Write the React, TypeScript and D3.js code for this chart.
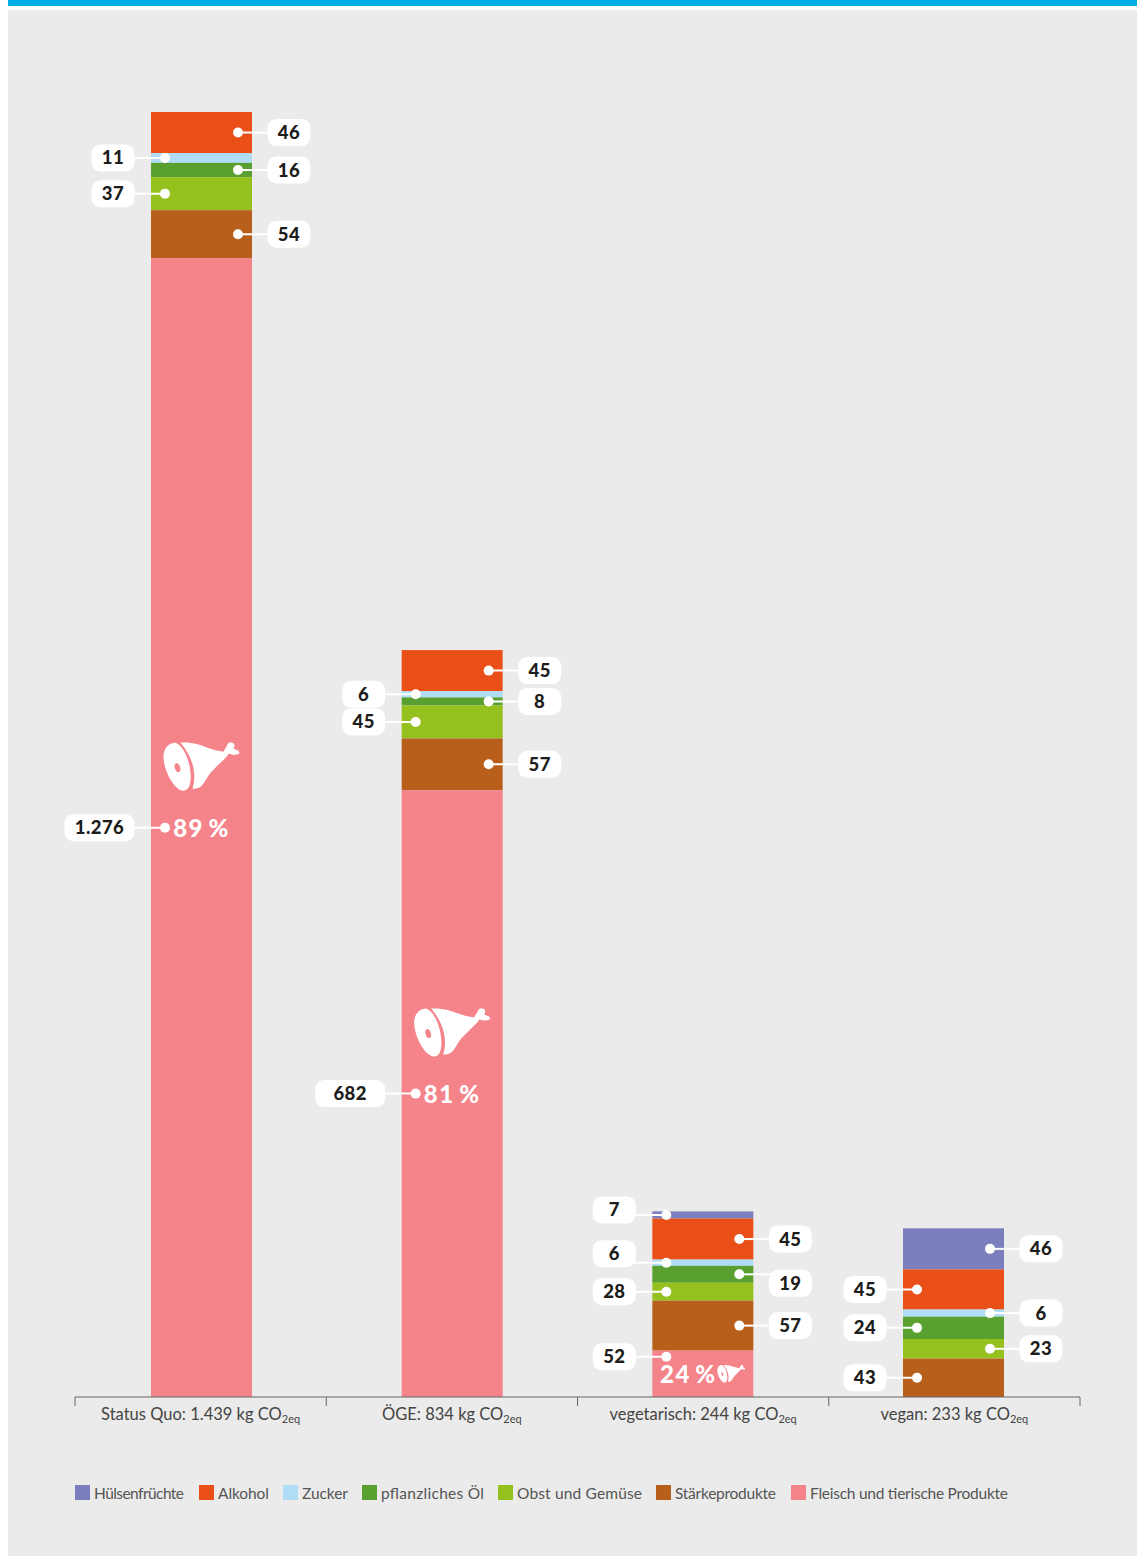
import React from "react";
import * as d3 from "d3";

const scenarios = ["Status Quo: 1.439 kg CO", "ÖGE: 834 kg CO", "vegetarisch: 244 kg CO", "vegan: 233 kg CO"];
const categories = [
  "Hülsenfrüchte",
  "Alkohol",
  "Zucker",
  "pflanzliches Öl",
  "Obst und Gemüse",
  "Stärkeprodukte",
  "Fleisch und tierische Produkte",
];
const colors = ["#7b7fbe", "#ea4f17", "#b0dcf5", "#5aa031", "#95c11f", "#b8601b", "#f5838a"];

// heights as drawn in the picture, same order as categories
const statusQuo = [0, 46, 11, 16, 37, 54, 1276];
const oege = [0, 46, 7, 9, 37, 58, 680];
const vegetarisch = [8, 46, 7, 19, 20, 56, 52];
const vegan = [46, 45, 8, 25, 22, 43, 0];

// printed numbers, some differ from the drawn height
const statusQuoLabels = ["", "46", "11", "16", "37", "54", "1.276"];
const oegeLabels = ["", "45", "6", "8", "45", "57", "682"];
const vegetarischLabels = ["7", "45", "6", "19", "28", "57", "52"];
const veganLabels = ["46", "45", "6", "24", "23", "43", ""];

const meatShares = ["89\u2009%", "81\u2009%", "24\u2009%", ""];

const allValues = [statusQuo, oege, vegetarisch, vegan];
const allLabels = [statusQuoLabels, oegeLabels, vegetarischLabels, veganLabels];

// which side each callout sits on
const sides = [
  ["r", "r", "l", "r", "l", "r", "l"],
  ["r", "r", "l", "r", "l", "r", "l"],
  ["l", "r", "l", "r", "l", "r", "l"],
  ["r", "l", "r", "l", "r", "l", "l"],
];

// hand placed callouts: [scenario, category, dot shift, pill shift]
const nudges: [number, number, number, number][] = [
  [2, 0, 0, -5],
  [2, 2, 0, -9],
  [2, 3, 0, 9],
  [2, 6, -17, -17],
];

const width = 1137;
const height = 1556;
const baseline = 1397;
const barWidth = 101;

const HAM_BODY =
  "M-20,-24 C-10,-25 0,-22 7,-19 C12,-17 18,-16 23,-15 C24,-17 25,-19 26,-20 C27,-24 30,-25 31,-24 C34,-24 35,-21 33,-18 C36,-17 39,-16 39,-14 C38,-12 35,-12 32,-12 C30,-13 28,-13 28,-13 C27,-11 26,-10 25,-9 C20,-4 15,1 10,6 C6,11 4,17 0,20 C-3,22 -6,22 -8,22 C-4,10 -6,-8 -20,-24 Z";
const HAM_FACE =
  "M-25,-24 C-18,-22 -11,-8 -10,6 C-9,16 -11,24 -17,24 C-26,24 -37,4 -37,-10 C-37,-18 -32,-24 -25,-24 Z";

function Ham({ x, y, scale = 1 }: { x: number; y: number; scale?: number }) {
  return (
    <g transform={`translate(${x},${y}) scale(${scale})`}>
      <path d={HAM_BODY} fill="#fff" />
      <path d={HAM_FACE} fill="#fff" />
      <ellipse cx={-23} cy={1} rx={2.6} ry={4.6} transform="rotate(-18 -23 1)" fill="#f5838a" />
    </g>
  );
}

export default function App() {
  const rows = scenarios.map((s, i) => {
    const row: Record<string, any> = { scenario: s };
    categories.forEach((c, j) => (row[c] = allValues[i][j]));
    return row;
  });
  // stack from the bottom up, so the last category goes first
  const series = d3.stack<any>().keys([...categories].reverse())(rows);
  const seriesOf = (c: string) => series.find((s) => s.key === c)!;

  const x = d3.scaleBand<string>().domain(scenarios).range([75, 1080]);
  const barX = d3.scalePoint<string>().domain(scenarios).range([201.5, 953.5]);
  const y = d3.scaleLinear().domain([0, 1440]).range([baseline, 112]);
  const tickX = [...scenarios.map((s) => x(s)!), 1080];

  const legendX = [75, 199, 283, 362, 498, 656, 791];
  const legendW = [90, 51, 46, 103, 125, 101, 198];

  return (
    <svg
      width={width}
      height={height}
      style={{ position: "absolute", left: 0, top: 0, display: "block" }}
      fontFamily="Lato, sans-serif"
    >
      <rect x={0} y={0} width={width} height={height} fill="#fff" />
      <rect x={8} y={10} width={width - 8} height={height - 10} fill="#ebebeb" />
      <rect x={8} y={0} width={width - 8} height={6} fill="#00aee6" />

      {/* bars */}
      {categories.map((c, j) => (
        <g key={c} fill={colors[j]}>
          {seriesOf(c).map((d, i) => {
            if (d[1] - d[0] <= 0) return null;
            const cx = barX(scenarios[i])!;
            return (
              <rect
                key={i}
                x={cx - barWidth / 2}
                y={y(d[1])}
                width={barWidth}
                height={y(d[0]) - y(d[1])}
              />
            );
          })}
        </g>
      ))}

      {/* meat marks */}
      {scenarios.map((s, i) => {
        if (!meatShares[i]) return null;
        const cx = barX(s)!;
        const d = seriesOf(categories[6])[i];
        const my = y((d[0] + d[1]) / 2);
        const small = i === 2;
        return (
          <g key={s}>
            <text
              x={small ? cx - 14.5 : cx}
              y={my + 9}
              textAnchor="middle"
              fontSize={24}
              fontWeight={900}
              letterSpacing={1.5}
              fill="#fff"
            >
              {meatShares[i]}
            </text>
            {small ? (
              <Ham x={cx + 28} y={my} scale={0.365} />
            ) : (
              <Ham x={cx - 1} y={my - 61} />
            )}
          </g>
        );
      })}

      {/* callouts */}
      {scenarios.map((s, i) => {
        const cx = barX(s)!;
        return categories.map((c, j) => {
          const label = allLabels[i][j];
          if (!label) return null;
          const d = seriesOf(c)[i];
          const nudge = nudges.find((n) => n[0] === i && n[1] === j);
          const dotY = y((d[0] + d[1]) / 2) + (nudge ? nudge[2] : 0);
          const pillY = y((d[0] + d[1]) / 2) + (nudge ? nudge[3] : 0);
          const left = sides[i][j] === "l";
          const dotX = left ? cx - 36.5 : cx + 36.5;
          const pillW = label.length > 2 && j === 6 ? 70 : 43;
          const pillX = left ? cx - 67 - pillW : cx + 66;
          return (
            <g key={c}>
              <line
                x1={dotX}
                x2={left ? pillX + pillW - 2 : pillX + 2}
                y1={dotY}
                y2={dotY}
                stroke="#fff"
                strokeWidth={2}
              />
              <circle cx={dotX} cy={dotY} r={5} fill="#fff" />
              <rect x={pillX} y={pillY - 13.5} width={pillW} height={27} rx={9} fill="#fff" />
              <text
                x={pillX + pillW / 2}
                y={pillY + 6.5}
                textAnchor="middle"
                fontSize={18.5}
                fontWeight={900}
                letterSpacing={0.4}
                fill="#1d1d1b"
              >
                {label}
              </text>
            </g>
          );
        });
      })}

      {/* axis */}
      <line x1={75} x2={1080} y1={baseline} y2={baseline} stroke="#666" strokeWidth={1} />
      {tickX.map((t) => (
        <line key={t} x1={t} x2={t} y1={baseline} y2={baseline + 9} stroke="#666" strokeWidth={1} />
      ))}
      {scenarios.map((s) => (
        <text
          key={s}
          x={x(s)! + x.bandwidth() / 2}
          y={1420}
          textAnchor="middle"
          fontSize={16.5}
          fill="#444"
        >
          {s}
          <tspan fontSize={11} dy={3}>
            2eq
          </tspan>
        </text>
      ))}

      {/* legend */}
      {categories.map((c, j) => (
        <g key={c} transform={`translate(${legendX[j]},1485)`}>
          <rect width={15} height={15} fill={colors[j]} />
          <text x={19} y={14} fontSize={15.5} textLength={legendW[j]} fill="#555">
            {c}
          </text>
        </g>
      ))}
    </svg>
  );
}
